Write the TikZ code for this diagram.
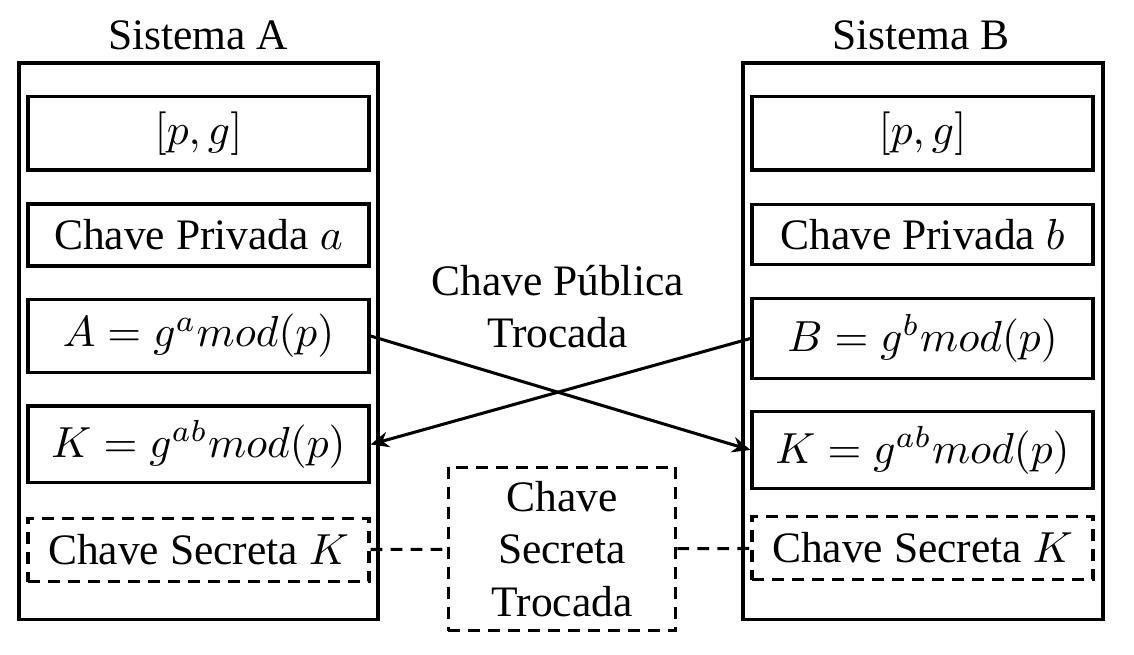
\documentclass[tikz,border=0pt]{standalone}
\usepackage{fontspec}
\setmainfont{Liberation Serif}
\usetikzlibrary{arrows.meta}
\begin{document}
\begin{tikzpicture}[x=0.23pt,y=-0.23pt, line width=0.7pt,
  outerbox/.style={draw, inner sep=0pt, minimum height=128.1pt},
  box/.style={draw, inner sep=1pt, minimum width=78.43pt},
  dsh/.style={dash pattern=on 2.7pt off 1.9pt},
  dbox/.style={box, dsh},
  arr/.style={-{Stealth[length=4.2pt,width=3.6pt]}},
  lbl/.style={align=center, inner sep=0pt}]
\useasboundingbox (0,0) rectangle (1134,655);
% outer systems
\node[outerbox, minimum width=82.57pt] (sysA) at (198.5,341.5) {};
\node[outerbox, minimum width=82.8pt] (sysB) at (923,341.5) {};
\node[anchor=base, inner sep=0pt] (titA) at (198,50) {Sistema A};
\node[anchor=base, inner sep=0pt] (titB) at (921,50) {Sistema B};
% system A
\node[box, minimum height=16.8pt] (apg) at (198.5,133.5) {$[p,g]$};
\node[box, minimum height=14.26pt] (apriv) at (198.5,235) {Chave Privada $a$};
\node[box, minimum height=17.0pt] (apub) at (198.5,336) {$A = g^a mod(p)$};
\node[box, minimum height=17.7pt] (ak) at (198.5,444.5) {$K = g^{ab} mod(p)$};
\node[dbox, minimum height=14.7pt] (asec) at (198.5,550) {Chave Secreta $K$};
% system B
\node[box, minimum height=16.8pt] (bpg) at (922.5,133.5) {$[p,g]$};
\node[box, minimum height=14.0pt] (bpriv) at (922.5,234.5) {Chave Privada $b$};
\node[box, minimum height=18.2pt] (bpub) at (922.5,338.5) {$B = g^b mod(p)$};
\node[box, minimum height=17.9pt] (bk) at (922.5,450) {$K = g^{ab} mod(p)$};
\node[dbox, minimum height=14.7pt] (bsec) at (922.5,548) {Chave Secreta $K$};
% middle
\node[lbl] (pubx) at (557.5,307) {Chave Pública\\Trocada};
\node[draw, dsh, align=center, inner sep=1pt, minimum width=52.4pt, minimum height=37.7pt] (msec) at (562,549) {Chave\\Secreta\\Trocada};
% connectors
\draw[arr] (apub.east) -- (bk.west);
\draw[arr] (bpub.west) -- (ak.east);
\draw[dsh] (asec) -- (msec);
\draw[dsh] (msec) -- (bsec);
\end{tikzpicture}
\end{document}
